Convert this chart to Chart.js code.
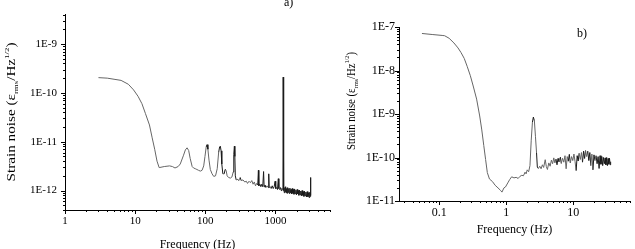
<!DOCTYPE html>
<html>
<head>
<meta charset="utf-8">
<script src="https://cdn.jsdelivr.net/npm/chart.js@4.4.0/dist/chart.umd.min.js"></script>
<style>
  body { margin: 0; background: #fff; }
  #wrap { position: relative; width: 635px; height: 249px; overflow: hidden; }
  #leftChart { position: absolute; left: 0; top: 0; }
  #rightChart { position: absolute; left: 335px; top: 0; }
</style>
</head>
<body>
<div id="wrap">
  <canvas id="leftChart" width="335" height="249"></canvas>
  <canvas id="rightChart" width="300" height="249"></canvas>
</div>
<script>
// ---- panel a) : high frequency strain noise ----
const freqA = [3, 4, 5, 6.3, 8, 9.5, 11, 12.5, 14, 16, 17.5, 19, 20.5, 22, 26, 31, 34, 37, 41, 44, 49, 52, 55, 58, 61, 65, 68, 72, 76, 80, 85, 90, 95, 99, 103, 106, 109, 113, 118, 125, 132, 140, 148, 155, 160, 164, 168, 172, 178, 186, 192, 198, 205, 215, 228, 240, 250, 255, 260, 264, 268, 276, 290, 300, 315, 325, 345, 365, 385, 400, 420, 440, 460, 480, 500, 520, 540, 560, 572, 580, 600, 620, 640, 660, 678, 690, 710, 730, 760, 790, 803, 815, 840, 870, 900, 930, 960, 990, 1010, 1040, 1070, 1100, 1120, 1150, 1180, 1210, 1240, 1280, 1290, 1300, 1320, 1340, 1360, 1380, 1400, 1420, 1445, 1470, 1495, 1520, 1550, 1580, 1610, 1640, 1670, 1700, 1735, 1770, 1800, 1840, 1880, 1920, 1960, 2000, 2040, 2080, 2120, 2160, 2200, 2250, 2300, 2350, 2400, 2450, 2500, 2550, 2600, 2660, 2720, 2780, 2840, 2900, 2960, 3020, 3080, 3130, 3170, 3190];
const noiseA = [2.05e-10, 2.0e-10, 1.9e-10, 1.8e-10, 1.5e-10, 1.15e-10, 8.5e-11, 6e-11, 3.8e-11, 2.2e-11, 1.2e-11, 7e-12, 4e-12, 2.95e-12, 3.1e-12, 3.2e-12, 3.1e-12, 2.9e-12, 3.1e-12, 3.5e-12, 5.3e-12, 6.8e-12, 7.5e-12, 6.6e-12, 4.5e-12, 3.1e-12, 2.9e-12, 2.8e-12, 2.7e-12, 2.6e-12, 2.5e-12, 2.6e-12, 3.2e-12, 5.0e-12, 7.8e-12, 8.7e-12, 7.0e-12, 4.2e-12, 2.7e-12, 2.2e-12, 1.95e-12, 2.0e-12, 2.8e-12, 6.0e-12, 7.8e-12, 8.1e-12, 6.5e-12, 3.5e-12, 2.2e-12, 2.2e-12, 2.7e-12, 2.6e-12, 2.0e-12, 1.85e-12, 1.8e-12, 1.9e-12, 2.4e-12, 5.5e-12, 8.1e-12, 5.0e-12, 2.0e-12, 1.65e-12, 1.7e-12, 1.6e-12, 1.85e-12, 1.6e-12, 1.65e-12, 1.5e-12, 1.55e-12, 1.4e-12, 1.55e-12, 1.45e-12, 1.6e-12, 1.35e-12, 1.5e-12, 1.25e-12, 1.4e-12, 1.3e-12, 2.6e-12, 1.25e-12, 1.35e-12, 1.2e-12, 1.35e-12, 1.2e-12, 2.45e-12, 1.2e-12, 1.3e-12, 1.15e-12, 1.25e-12, 1.15e-12, 2.2e-12, 1.15e-12, 1.2e-12, 1.1e-12, 1.25e-12, 1.1e-12, 1.2e-12, 1.55e-12, 1.1e-12, 1.15e-12, 1.05e-12, 1.75e-12, 1.1e-12, 1.05e-12, 1.15e-12, 1.0e-12, 1.1e-12, 1.05e-12, 2.1e-10, 1.0e-12, 1.1e-12, 0.9e-12, 1.15e-12, 0.95e-12, 1.2e-12, 0.9e-12, 1.1e-12, 0.88e-12, 1.15e-12, 0.92e-12, 1.1e-12, 0.87e-12, 1.12e-12, 0.9e-12, 1.05e-12, 0.85e-12, 1.1e-12, 0.88e-12, 1.05e-12, 0.84e-12, 1.08e-12, 0.86e-12, 1.02e-12, 0.82e-12, 1.05e-12, 0.85e-12, 1.0e-12, 0.8e-12, 1.02e-12, 0.82e-12, 0.98e-12, 0.78e-12, 1.0e-12, 0.8e-12, 0.95e-12, 0.76e-12, 0.97e-12, 0.78e-12, 0.93e-12, 0.74e-12, 0.95e-12, 0.75e-12, 0.9e-12, 0.72e-12, 0.92e-12, 0.76e-12, 1.85e-12, 0.8e-12];
const xTicksA = [1, 10, 100, 1000];
const xLabelsA = ['1', '10', '100', '1000'];
const yTicksA = [1e-12, 1e-11, 1e-10, 1e-9];
const yLabelsA = ['1E-12', '1E-11', '1E-10', '1E-9'];

// ---- panel b) : low frequency strain noise ----
const freqB = [0.055, 0.08, 0.11, 0.12, 0.14, 0.165, 0.19, 0.21, 0.235, 0.26, 0.29, 0.32, 0.36, 0.40, 0.43, 0.46, 0.49, 0.52, 0.56, 0.62, 0.68, 0.75, 0.82, 0.86, 0.92, 0.97, 1.05, 1.12, 1.2, 1.3, 1.4, 1.5, 1.6, 1.7, 1.8, 1.9, 1.97, 2.05, 2.15, 2.25, 2.35, 2.45, 2.53, 2.62, 2.72, 2.82, 2.9, 3.0, 3.15, 3.3, 3.45, 3.6, 3.8, 3.95, 4.1, 4.3, 4.5, 4.7, 4.9, 5.1, 5.3, 5.5, 5.7, 5.9, 6.1, 6.4, 6.6, 6.9, 7.2, 7.5, 7.8, 8.1, 8.4, 8.7, 9.0, 9.4, 9.8, 10.2, 10.6, 11.0, 11.4, 11.8, 12.2, 12.7, 13.2, 13.7, 14.2, 14.7, 15.2, 15.8, 16.4, 17.0, 17.6, 18.2, 18.9, 19.6, 20.3, 21.0, 21.8, 22.6, 23.4, 24.2, 25.0, 25.8, 26.6, 27.4, 28.2, 29.0, 29.8, 30.6, 31.4, 32.2, 33.0, 33.8, 34.6, 35.4, 36.0];
const noiseB = [7.1e-8, 6.7e-8, 6.4e-8, 6.3e-8, 5.5e-8, 4.3e-8, 3.3e-8, 2.6e-8, 1.9e-8, 1.25e-8, 7.6e-9, 4.4e-9, 2.2e-9, 9e-10, 4.3e-10, 1.9e-10, 9e-11, 4.5e-11, 3.2e-11, 2.8e-11, 2.3e-11, 2.0e-11, 1.75e-11, 1.6e-11, 2.0e-11, 2.1e-11, 2.6e-11, 3.1e-11, 3.6e-11, 3.4e-11, 3.5e-11, 3.3e-11, 3.7e-11, 3.9e-11, 3.8e-11, 4.6e-11, 4.2e-11, 5.2e-11, 4.7e-11, 6.5e-11, 2.5e-10, 6.5e-10, 8.5e-10, 7e-10, 3.0e-10, 1.3e-10, 6e-11, 5.6e-11, 6.3e-11, 5.5e-11, 6.8e-11, 5.9e-11, 8.9e-11, 6.2e-11, 5.3e-11, 7.5e-11, 6.3e-11, 8.7e-11, 7.2e-11, 9.8e-11, 7.5e-11, 9.2e-11, 6.8e-11, 9.5e-11, 8.0e-11, 1.02e-10, 7.3e-11, 9.6e-11, 7.8e-11, 1.1e-10, 5.5e-11, 1.05e-10, 8.2e-11, 1.18e-10, 7.5e-11, 1.05e-10, 8.5e-11, 1.2e-10, 8e-11, 5.0e-11, 1.1e-10, 8.3e-11, 1.25e-10, 9e-11, 1.3e-10, 7.8e-11, 1.4e-10, 9.5e-11, 1.45e-10, 1.05e-10, 1.4e-10, 8.5e-11, 1.3e-10, 6.5e-11, 1.2e-10, 5.2e-11, 1.15e-10, 8.5e-11, 1.1e-10, 7.2e-11, 1.05e-10, 5.6e-11, 1.1e-10, 7.0e-11, 1.05e-10, 6.5e-11, 1.0e-10, 7.2e-11, 9.8e-11, 6.8e-11, 1.0e-10, 6.5e-11, 9.5e-11, 7.0e-11, 9.6e-11, 6.8e-11, 8.0e-11];
const xTicksB = [0.1, 1, 10];
const xLabelsB = ['0.1', '1', '10'];
const yTicksB = [1e-11, 1e-10, 1e-9, 1e-8, 1e-7];
const yLabelsB = ['1E-11', '1E-10', '1E-9', '1E-8', '1E-7'];

const SERIF = '"Liberation Serif", "Times New Roman", serif';

// decade ticks plus the 2..9 minor ticks between them
function logTicks(min, max, majors) {
    const ticks = [];
    const decades = [majors[0] / 10, ...majors];
    decades.forEach(d => {
        for (let k = 1; k <= 9; k++) {
            const v = k === 1 ? d : d * k;
            if (v >= min * 0.999 && v <= max * 1.001) {
                ticks.push({ value: v, major: k === 1 && majors.includes(d) });
            }
        }
    });
    return ticks;
}

// draws tick marks, y title with sub/superscript, x title and panel tag
const decorations = {
    id: 'decorations',
    afterDraw(chart, args, o) {
        const ctx = chart.ctx;
        const area = chart.chartArea;
        const xs = chart.scales.x, ys = chart.scales.y;
        ctx.save();
        ctx.strokeStyle = '#000';
        ctx.lineWidth = 1;
        xs.ticks.forEach(t => {
            const px = Math.round(xs.getPixelForValue(t.value)) + 0.5;
            ctx.beginPath();
            ctx.moveTo(px, area.bottom);
            ctx.lineTo(px, area.bottom + (t.major ? 4 : 2));
            ctx.stroke();
        });
        ys.ticks.forEach(t => {
            const py = Math.round(ys.getPixelForValue(t.value)) + 0.5;
            ctx.beginPath();
            ctx.moveTo(area.left, py);
            ctx.lineTo(area.left - (t.major ? 4 : 2), py);
            ctx.stroke();
        });

        ctx.fillStyle = '#000';
        // x axis title
        ctx.font = '12px ' + SERIF;
        ctx.textAlign = 'center';
        ctx.textBaseline = 'middle';
        ctx.fillText('Frequency (Hz)', (area.left + area.right) / 2, area.bottom + o.xTitleOffset);

        // panel tag
        ctx.textAlign = 'left';
        ctx.textBaseline = 'alphabetic';
        ctx.fillText(o.tag, o.tagX, o.tagY);

        // rotated y title
        const parts = [
            { t: 'Strain noise (\u03b5', size: 12, dy: 0 },
            { t: 'rms', size: 7, dy: 3 },
            { t: '/Hz', size: 12, dy: 0 },
            { t: '1/2', size: 7, dy: -6 },
            { t: ')', size: 12, dy: 0 }
        ];
        let total = 0;
        parts.forEach(p => {
            ctx.font = p.size + 'px ' + SERIF;
            p.w = ctx.measureText(p.t).width;
            total += p.w;
        });
        ctx.translate(o.yTitleX, o.yTitleY);
        ctx.rotate(-Math.PI / 2);
        ctx.scale(o.yTitleLength / total, 1);
        let x = -total / 2;
        parts.forEach(p => {
            ctx.font = p.size + 'px ' + SERIF;
            ctx.fillText(p.t, x, p.dy);
            x += p.w;
        });
        ctx.restore();
    }
};

function makeChart(id, freq, noise, cfg) {
    const points = freq.map((f, i) => ({ x: f, y: noise[i] }));
    return new Chart(document.getElementById(id), {
        type: 'scatter',
        data: {
            datasets: [{
                data: points,
                showLine: true,
                borderColor: '#666',
                borderWidth: 1,
                pointRadius: 0,
                tension: 0,
                // densely sampled stretches read darker, as in the original trace
                segment: {
                    borderColor: c => (c.p1.x - c.p0.x) < 1.05 ? '#1a1a1a' : undefined
                }
            }]
        },
        options: {
            responsive: false,
            animation: false,
            devicePixelRatio: 1,
            layout: { padding: cfg.padding },
            plugins: {
                legend: { display: false },
                tooltip: { enabled: false },
                decorations: cfg.deco
            },
            scales: {
                x: {
                    type: 'logarithmic',
                    min: cfg.xMin, max: cfg.xMax,
                    grid: { display: true, drawOnChartArea: false, drawTicks: false },
                    border: { display: true, color: '#000', width: 1 },
                    ticks: {
                        autoSkip: false, maxRotation: 0, minRotation: 0,
                        padding: 5, color: '#000',
                        font: { family: SERIF, size: cfg.tickSize },
                        callback: (v, i, t) => t[i].major ? cfg.xLabels[cfg.xTicks.indexOf(v)] : ''
                    },
                    afterBuildTicks: s => { s.ticks = logTicks(cfg.xMin, cfg.xMax, cfg.xTicks); },
                    afterFit: s => { s.height = cfg.xHeight; }
                },
                y: {
                    type: 'logarithmic',
                    min: cfg.yMin, max: cfg.yMax,
                    grid: { display: true, drawOnChartArea: false, drawTicks: false },
                    border: { display: true, color: '#000', width: 1 },
                    ticks: {
                        autoSkip: false, padding: cfg.yPad, color: '#000',
                        font: { family: SERIF, size: cfg.tickSize },
                        callback: (v, i, t) => t[i].major ? cfg.yLabels[cfg.yTicks.indexOf(v)] : ''
                    },
                    afterBuildTicks: s => { s.ticks = logTicks(cfg.yMin, cfg.yMax, cfg.yTicks); },
                    afterFit: s => { s.width = cfg.yWidth; }
                }
            }
        },
        plugins: [decorations]
    });
}

makeChart('leftChart', freqA, noiseA, {
    xMin: 1, xMax: 6000, yMin: 4e-13, yMax: 4e-9,
    xTicks: xTicksA, xLabels: xLabelsA, yTicks: yTicksA, yLabels: yLabelsA,
    padding: { left: 0, top: 13, right: 5, bottom: 0 },
    xHeight: 39, yWidth: 65, yPad: 8, tickSize: 11,
    deco: { tag: 'a)', tagX: 284, tagY: 6, xTitleOffset: 35,
            yTitleX: 15, yTitleY: 112, yTitleLength: 139 }
});

makeChart('rightChart', freqB, noiseB, {
    xMin: 0.025, xMax: 70, yMin: 1e-11, yMax: 1e-7,
    xTicks: xTicksB, xLabels: xLabelsB, yTicks: yTicksB, yLabels: yLabelsB,
    padding: { left: 0, top: 27, right: 1, bottom: 0 },
    xHeight: 48, yWidth: 64, yPad: 4, tickSize: 12,
    deco: { tag: 'b)', tagX: 242, tagY: 37, xTitleOffset: 29,
            yTitleX: 20, yTitleY: 101, yTitleLength: 98 }
});
</script>
</body>
</html>
